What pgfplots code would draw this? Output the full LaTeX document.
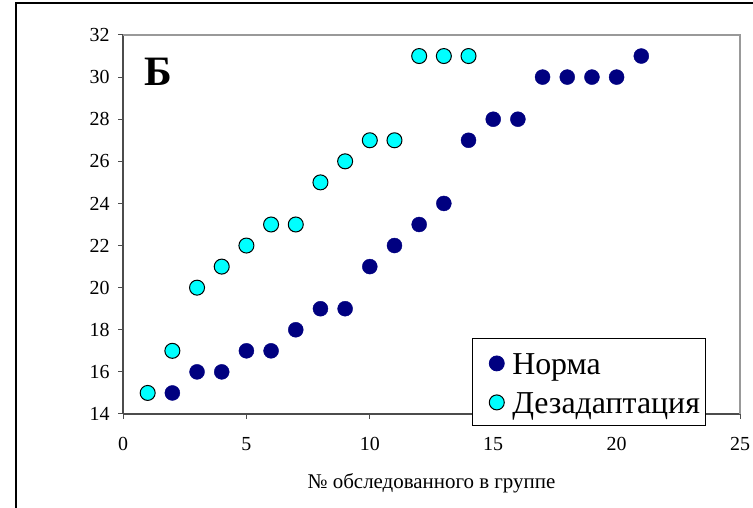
\documentclass[border=0pt]{standalone}
\usepackage{pgfplots}
\pgfplotsset{compat=1.18}
\usepackage{fontspec}
\setmainfont{Liberation Serif}
\definecolor{navyc}{RGB}{0,0,128}
\definecolor{cyanc}{RGB}{0,255,255}
\begin{document}
\begin{tikzpicture}[x=1bp,y=1bp]
\useasboundingbox (0,0) rectangle (753,508);
\draw[black, line width=1.2bp] (16,0) -- (16,505) -- (753,505);
\begin{axis}[
  at={(123bp,94bp)}, anchor=south west,
  scale only axis, width=617bp, height=379bp,
  xmin=0, xmax=25, ymin=14, ymax=32,
  xtick={0,5,...,25}, ytick={14,16,...,32},
  axis x line*=bottom, axis y line*=left,
  axis line style={draw=black!70, line width=1.2bp, -},
  tick style={black!70, line width=1bp},
  tick align=outside, major tick length=5bp,
  /pgf/number format/assume math mode=true,
  ticklabel style={font=\fontsize{20}{22}\selectfont},
  yticklabel style={xshift=-5bp},
  xticklabel style={yshift=-15bp},
  xlabel={№ обследованного в группе},
  xlabel style={font=\fontsize{21}{24}\selectfont, at={(axis description cs:0.5,-0.183)}, anchor=center},
  legend style={at={(0.5656,0.2005)}, anchor=north west, draw=black, line width=0.8bp,
    font=\fontsize{32}{36}\selectfont, inner xsep=3bp, inner ysep=10bp, row sep=11bp,
    nodes={inner ysep=0bp, text height=26bp, text depth=2bp},
    /tikz/every odd column/.append style={column sep=6bp}},
  legend cell align=left,
  legend image code/.code={\path (0bp,0bp); \draw[#1] plot coordinates {(21bp,-1bp)};},
  clip=false,
]
\addplot[only marks, mark=*, mark size=7.5bp, color=navyc, mark options={fill=navyc, draw=navyc}] coordinates {
(2,15)(3,16)(4,16)(5,17)(6,17)(7,18)(8,19)(9,19)(10,21)(11,22)(12,23)(13,24)(14,27)(15,28)(16,28)(17,30)(18,30)(19,30)(20,30)(21,31)};
\addlegendentry{Норма}
\addplot[only marks, mark=*, mark size=7.5bp, mark options={fill=cyanc, draw=black, line width=1bp}] coordinates {
(1,15)(2,17)(3,20)(4,21)(5,22)(6,23)(7,23)(8,25)(9,26)(10,27)(11,27)(12,31)(13,31)(14,31)};
\addlegendentry{Дезадаптация}
\draw[black!40, line width=1.2bp] (rel axis cs:0,1) -- (rel axis cs:1,1) -- (rel axis cs:1,0);
\node[font=\fontsize{42}{44}\selectfont\bfseries, anchor=base] at (axis cs:1.42,29.6) {Б};
\end{axis}
\end{tikzpicture}
\end{document}
